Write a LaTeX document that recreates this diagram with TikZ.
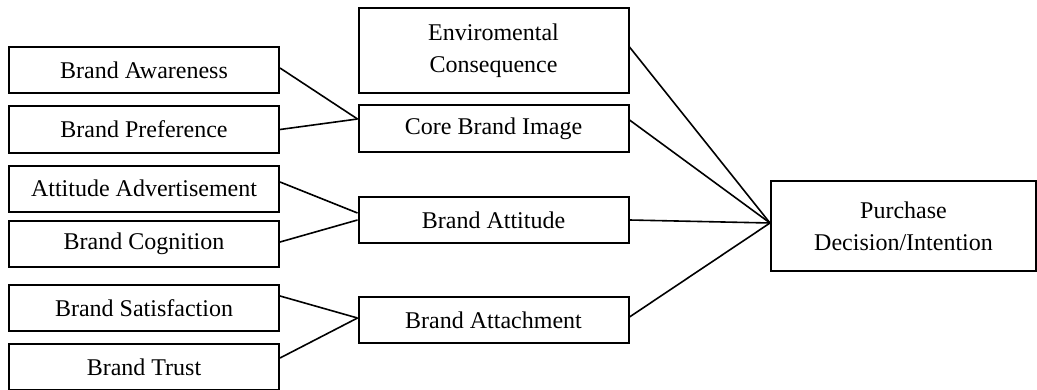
\documentclass[tikz,border=0pt]{standalone}
\usepackage{fontspec}
\setmainfont{Liberation Serif}
\usetikzlibrary{positioning}

\begin{document}
\begin{tikzpicture}[
  x=0.5pt, y=-0.5pt,
  every node/.style={align=center, font=\fontsize{12}{16}\selectfont},
  box/.style={rectangle, draw=black, line width=1pt, minimum width=135pt, minimum height=23pt, inner sep=2pt},
  link/.style={line width=0.8pt}
]
\useasboundingbox (0,0) rectangle (1037,390);

% Left column
\node[box] (aware) at (144,70) {Brand Awareness};
\node[box] (pref) at (144,129.5) {Brand Preference};
\node[box] (advert) at (144,188.5) {Attitude Advertisement};
\node[box] (cogn) at (144,244) {Brand Cognition};
\node[box] (satis) at (144,308) {Brand Satisfaction};
\node[box] (trust) at (144,367) {Brand Trust};

% Middle column
\node[box, minimum height=42.5pt] (env) at (493.5,50.5) {Enviromental\\Consequence};
\node[box] (core) at (493.5,128.5) {Core Brand Image};
\node[box] (att) at (493.5,220) {Brand Attitude};
\node[box] (attach) at (493.5,320) {Brand Attachment};

% Outcome
\node[box, minimum width=132.5pt, minimum height=45pt] (purch) at (903.5,226) {Purchase\\Decision/Intention};

% Left to middle
\draw[link] ([yshift=1pt]aware.east) -- ([yshift=4.75pt]core.west);
\draw[link] (pref.east) -- ([yshift=4.75pt]core.west);
\draw[link] ([yshift=3.25pt]advert.east) -- ([yshift=3.5pt]att.west);
\draw[link] ([yshift=1pt]cogn.east) -- (att.west);
\draw[link] ([yshift=6pt]satis.east) -- ([yshift=1pt]attach.west);
\draw[link] ([yshift=4.5pt]trust.east) -- ([yshift=1pt]attach.west);

% Middle to outcome
\draw[link] ([yshift=1.75pt]env.east) -- ([yshift=1.5pt]purch.west);
\draw[link] ([yshift=4.25pt]core.east) -- ([yshift=1.5pt]purch.west);
\draw[link] (att.east) -- ([yshift=1.5pt]purch.west);
\draw[link] ([yshift=1.5pt]attach.east) -- ([yshift=1.5pt]purch.west);

\end{tikzpicture}
\end{document}
